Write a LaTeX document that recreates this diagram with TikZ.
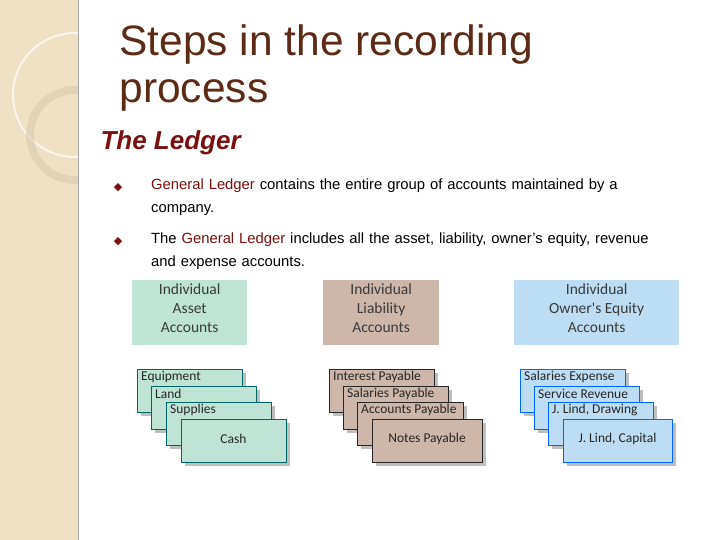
\documentclass[tikz,border=0pt]{standalone}
\usepackage{fontspec}
\setmainfont{Liberation Sans}
\newfontfamily\gill{Carlito}
\newfontfamily\dej{DejaVu Sans}
\definecolor{beige}{HTML}{EFE1C4}
\definecolor{titlec}{HTML}{5C2A16}
\definecolor{ledc}{HTML}{7A1010}
\definecolor{asset}{HTML}{BFE4D6}
\definecolor{liab}{HTML}{CDB7AA}
\definecolor{equi}{HTML}{BCDDF4}
\definecolor{hdtxt}{HTML}{3A3A3A}
\begin{document}
\begin{tikzpicture}[x=1pt,y=-1pt,
  hdr/.style={anchor=north west,inner sep=0pt,align=center,font=\gill\fontsize{15.5}{19}\selectfont,text=hdtxt},
  ctxt/.style={font=\gill\fontsize{13.5}{15}\selectfont,inner sep=1pt,text=black!85}]
\useasboundingbox (0,0) rectangle (720,540);
\fill[white] (0,0) rectangle (720,540);
% left strip
\fill[beige] (0,0) rectangle (78,540);
\draw[black!35,line width=0.8pt] (78,0) -- (78,540);
\begin{scope}
\clip (0,0) rectangle (78,540);
\draw[white!70!beige,line width=2pt] (75,95) circle (62);
\draw[beige!88!black,line width=8pt,opacity=0.5] (75,135) circle (45);
\end{scope}
% titles
\node[anchor=west,text=titlec,font=\fontsize{42.5}{44}\selectfont] (t1) at (116,45) {Steps in the recording};
\node[anchor=west,text=titlec,font=\fontsize{42.5}{44}\selectfont] (t2) at (116,95) {process};
\node[anchor=west,text=ledc,font=\bfseries\itshape\fontsize{26}{28}\selectfont] (tl) at (97,143) {The Ledger};
% bullets
\node[text=ledc,font=\dej\fontsize{11}{11}\selectfont] (b1) at (118,188) {◆};
\node[text=ledc,font=\dej\fontsize{11}{11}\selectfont] (b2) at (118,242) {◆};
\node[anchor=north west,align=left,inner sep=0pt,font=\fontsize{14.8}{23}\selectfont,text width=560pt] (p1) at (151,179)
 {\textcolor{ledc}{General Ledger} contains the entire group of accounts maintained by a\\company.};
\node[anchor=north west,align=left,inner sep=0pt,font=\fontsize{14.8}{23}\selectfont,text width=560pt] (p2) at (151,233)
 {The \textcolor{ledc}{General Ledger} includes all the asset, liability, owner's equity, revenue\\and expense accounts.};
% headers
\fill[asset] (132,280) rectangle (247,345);
\node[hdr] (h1) at (132,284) {\parbox{115pt}{\centering Individual\\Asset\\Accounts}};
\fill[liab] (323,280) rectangle (439,345);
\node[hdr] (h2) at (323,284) {\parbox{116pt}{\centering Individual\\Liability\\Accounts}};
\fill[equi] (514,280) rectangle (679,345);
\node[hdr] (h3) at (514,284) {\parbox{165pt}{\centering Individual\\Owner's Equity\\Accounts}};
% cards
\foreach \x/\y/\w/\fc/\dc/\t/\big in {
 137/369/105/asset/teal!80!black/Equipment/0, 151/386/105/asset/teal!80!black/Land/0, 166/402/105/asset/teal!80!black/Supplies/0, 181/419/105/asset/teal!80!black/Cash/1,
 329/369/105/liab/black!85/Interest Payable/0, 343/386/105/liab/black!85/Salaries Payable/0, 357/402/106/liab/black!85/Accounts Payable/0, 372/419/110/liab/black!85/Notes Payable/1,
 520/369/105/equi/blue!60!cyan/Salaries Expense/0, 534/386/105/equi/blue!60!cyan/Service Revenue/0, 548/402/105/equi/blue!60!cyan/{J. Lind, Drawing}/0, 563/419/109/equi/blue!60!cyan/{J. Lind, Capital}/1}
{
 \fill[black!25] (\x+4,\y+4) rectangle (\x+\w+4,\y+47);
 \filldraw[fill=\fc,draw=\dc,line width=0.8pt] (\x,\y) rectangle (\x+\w,\y+43);
 \ifnum\big=1
   \node[ctxt] at (\x+\w/2,\y+20) {\t};
 \else
   \node[ctxt,anchor=west] at (\x+3,\y+8) {\t};
 \fi
}
\end{tikzpicture}
\end{document}
